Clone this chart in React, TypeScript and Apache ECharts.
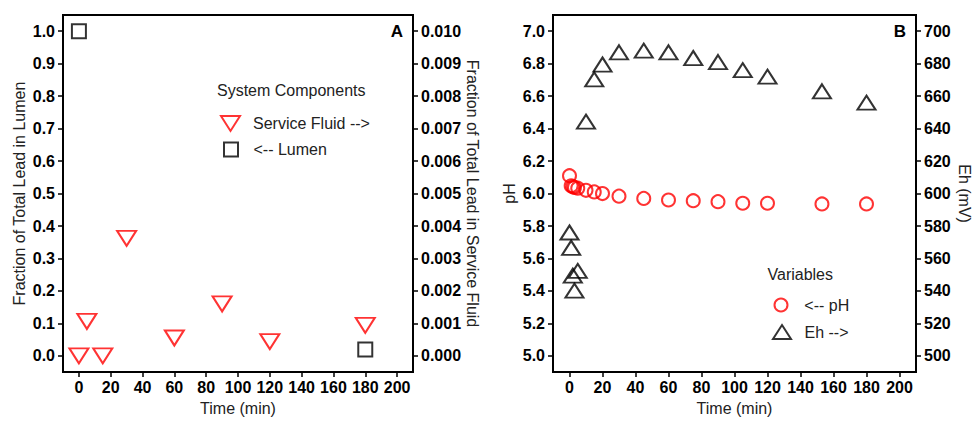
import React, { useEffect, useRef } from "react";
import * as echarts from "echarts";

// ---- tick labels ----
const timeTicks = [0, 20, 40, 60, 80, 100, 120, 140, 160, 180, 200];
const lumenTicks = [0, 0.1, 0.2, 0.3, 0.4, 0.5, 0.6, 0.7, 0.8, 0.9, 1.0];
const fluidTicks = [0, 0.001, 0.002, 0.003, 0.004, 0.005, 0.006, 0.007, 0.008, 0.009, 0.01];
const phTicks = [5.0, 5.2, 5.4, 5.6, 5.8, 6.0, 6.2, 6.4, 6.6, 6.8, 7.0];
const ehTicks = [500, 520, 540, 560, 580, 600, 620, 640, 660, 680, 700];

// ---- panel A data ----
const fluidTimes = [0, 5, 15, 30, 60, 90, 120, 180];
const fluidValues = [0.0, 0.00106, 0.0, 0.00362, 0.00055, 0.0016, 0.00044, 0.00094];
const lumenTimes = [0, 180];
const lumenValues = [1.0, 0.02];

// ---- panel B data ----
const phTimes = [0, 1, 2, 3, 5, 10, 15, 20, 30, 45, 60, 75, 90, 105, 120, 153, 180];
const phValues = [6.11, 6.048, 6.042, 6.038, 6.033, 6.02, 6.01, 6.0, 5.984, 5.97, 5.96, 5.956, 5.95, 5.94, 5.94, 5.936, 5.936];
const ehTimes = [0, 1, 2, 3, 5, 10, 15, 20, 30, 45, 60, 75, 90, 105, 120, 153, 180];
const ehValues = [576, 566.6, 549.4, 540.2, 552.3, 644.3, 670.4, 679.5, 687, 688, 687, 683.5, 681, 676, 672, 663, 656];

const FONT = "'Liberation Sans', Arial, Helvetica, sans-serif";
const RED = "#ff0000";
const BLACK = "#000000";
const TITLE_COLOR = "#222222";
const DOWN_TRIANGLE = "path://M0,0 L19,0 L9.5,15 Z";

function xAxis(gridIndex: number) {
  return {
    type: "value",
    gridIndex,
    min: -10,
    max: 210,
    name: "Time (min)",
    nameLocation: "middle",
    nameGap: 23,
    nameTextStyle: { fontFamily: FONT, fontSize: 16, color: TITLE_COLOR },
    axisLine: { show: true, onZero: false, lineStyle: { color: BLACK, width: 2 } },
    axisTick: { show: true, customValues: timeTicks, length: 5, lineStyle: { color: BLACK, width: 1.5 } },
    axisLabel: {
      customValues: timeTicks,
      margin: 7,
      fontFamily: FONT,
      fontSize: 16,
      fontWeight: "bold",
      color: BLACK,
      formatter: (v: number) => String(Math.round(v)),
    },
    splitLine: { show: false },
  };
}

function yAxis(
  gridIndex: number,
  position: "left" | "right",
  min: number,
  max: number,
  ticks: number[],
  decimals: number,
  name: string,
  nameGap: number
) {
  return {
    type: "value",
    gridIndex,
    position,
    min,
    max,
    name,
    nameLocation: "middle",
    nameGap,
    nameRotate: position === "right" ? -90 : 90,
    nameTextStyle: { fontFamily: FONT, fontSize: 16, color: TITLE_COLOR },
    axisLine: { show: true, onZero: false, lineStyle: { color: BLACK, width: 2 } },
    axisTick: { show: true, customValues: ticks, length: 5, lineStyle: { color: BLACK, width: 1.5 } },
    axisLabel: {
      customValues: ticks,
      margin: 8,
      fontFamily: FONT,
      fontSize: 16,
      fontWeight: "bold",
      color: BLACK,
      formatter: (v: number) => v.toFixed(decimals),
    },
    splitLine: { show: false },
  };
}

function legendItem(
  name: string,
  icon: string,
  w: number,
  h: number,
  color: string,
  left: number,
  top: number,
  padLeft: number
) {
  return {
    show: true,
    orient: "horizontal",
    left,
    top,
    padding: 0,
    itemWidth: w,
    itemHeight: h,
    symbolKeepAspect: false,
    selectedMode: false,
    data: [
      {
        name,
        icon,
        itemStyle: { color: "rgba(0,0,0,0)", borderColor: color, borderWidth: 2 },
      },
    ],
    textStyle: { fontFamily: FONT, fontSize: 16, color: TITLE_COLOR, padding: [0, 0, 0, padLeft] },
  };
}

export default function App() {
  const ref = useRef<HTMLDivElement>(null);

  useEffect(() => {
    if (!ref.current) return;
    const chart = echarts.init(ref.current, undefined, { renderer: "svg" });
    const hollow = (c: string) => ({ color: "rgba(0,0,0,0)", borderColor: c, borderWidth: 2 });

    const option = {
      animation: false,
      backgroundColor: "#ffffff",
      grid: [
        { left: 63, top: 15, width: 350, height: 363, show: true, borderColor: BLACK, borderWidth: 2, backgroundColor: "transparent" },
        { left: 553, top: 15, width: 363, height: 363, show: true, borderColor: BLACK, borderWidth: 2, backgroundColor: "transparent" },
      ],
      xAxis: [xAxis(0), xAxis(1)],
      yAxis: [
        yAxis(0, "left", -0.05, 1.05, lumenTicks, 1, "Fraction of Total Lead in Lumen", 36),
        yAxis(0, "right", -0.0005, 0.0105, fluidTicks, 3, "Fraction of Total Lead in Service Fluid", 51),
        yAxis(1, "left", 4.9, 7.1, phTicks, 1, "pH", 36),
        yAxis(1, "right", 490, 710, ehTicks, 0, "Eh (mV)", 40),
      ],
      legend: [
        legendItem("Service Fluid -->", DOWN_TRIANGLE, 19, 15, RED, 220, 115, 8),
        legendItem("<-- Lumen", "rect", 14, 14, BLACK, 223, 141.5, 10.5),
        legendItem("<-- pH", "circle", 13, 13, RED, 773.5, 297, 11.8),
        legendItem("Eh -->", "triangle", 18, 14, BLACK, 772, 324, 8.5),
      ],
      graphic: [
        { type: "text", x: 403, y: 31, style: { text: "A", font: `bold 17px ${FONT}`, fill: BLACK, align: "right", verticalAlign: "middle" } },
        { type: "text", x: 906, y: 31, style: { text: "B", font: `bold 17px ${FONT}`, fill: BLACK, align: "right", verticalAlign: "middle" } },
        { type: "text", x: 217, y: 90, style: { text: "System Components", font: `16px ${FONT}`, fill: TITLE_COLOR, align: "left", verticalAlign: "middle" } },
        { type: "text", x: 767.5, y: 274, style: { text: "Variables", font: `16px ${FONT}`, fill: TITLE_COLOR, align: "left", verticalAlign: "middle" } },
      ],
      series: [
        {
          type: "scatter",
          name: "Service Fluid -->",
          xAxisIndex: 0,
          yAxisIndex: 1,
          data: fluidTimes.map((t, i) => [t, fluidValues[i]]),
          symbol: "triangle",
          symbolSize: [19, 15],
          symbolRotate: 180,
          itemStyle: hollow(RED),
          emphasis: { disabled: true },
        },
        {
          type: "scatter",
          name: "<-- Lumen",
          xAxisIndex: 0,
          yAxisIndex: 0,
          data: lumenTimes.map((t, i) => [t, lumenValues[i]]),
          symbol: "rect",
          symbolSize: 14,
          itemStyle: hollow(BLACK),
          emphasis: { disabled: true },
        },
        {
          type: "scatter",
          name: "<-- pH",
          xAxisIndex: 1,
          yAxisIndex: 2,
          data: phTimes.map((t, i) => [t, phValues[i]]),
          symbol: "circle",
          symbolSize: 13,
          itemStyle: hollow(RED),
          emphasis: { disabled: true },
        },
        {
          type: "scatter",
          name: "Eh -->",
          xAxisIndex: 1,
          yAxisIndex: 3,
          data: ehTimes.map((t, i) => [t, ehValues[i]]),
          symbol: "triangle",
          symbolSize: [18, 14],
          itemStyle: hollow(BLACK),
          emphasis: { disabled: true },
        },
      ],
    };

    chart.setOption(option as any);
    return () => chart.dispose();
  }, []);

  return (
    <div
      ref={ref}
      style={{ position: "absolute", left: 0, top: 0, width: 975, height: 421, background: "#fff" }}
    />
  );
}
